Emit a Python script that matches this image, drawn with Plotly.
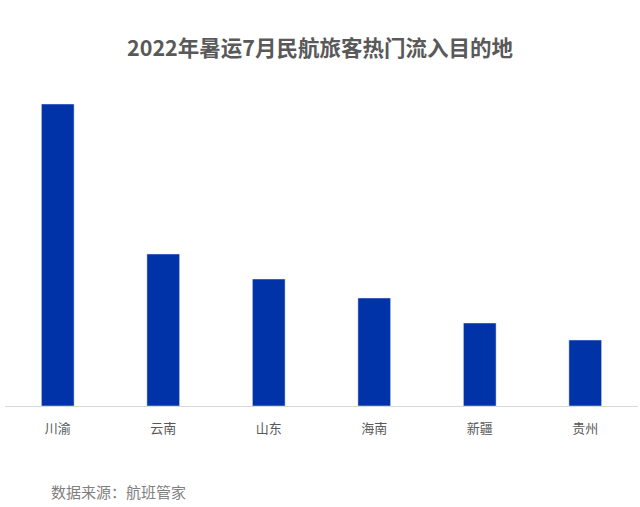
import plotly.graph_objects as go

regions = ['川渝', '云南', '山东', '海南', '新疆', '贵州']
# relative values
values = [302, 152, 127, 108, 83, 66]

TITLE = '2022年暑运7月民航旅客热门流入目的地'
SOURCE = '数据来源：航班管家'
FONT = 'Noto Sans CJK SC'

fig = go.Figure()
fig.add_trace(go.Bar(
    x=regions,
    y=values,
    marker_color='#0033A8',
    width=0.31,
    hoverinfo='x+y'
))

fig.update_layout(
    width=640,
    height=507,
    paper_bgcolor='white',
    plot_bgcolor='white',
    font=dict(family=FONT, color='#595959'),
    margin=dict(l=5, r=2, t=100, b=101),
    showlegend=False,
    title=dict(
        text='<b>' + TITLE + '</b>',
        x=0.5, xanchor='center',
        y=1 - 48 / 507, yanchor='middle',
        font=dict(size=21.5, color='#595959', family=FONT)
    ),
    xaxis=dict(
        showline=True, linecolor='#d9d9d9', linewidth=1,
        showgrid=False,
        ticks='outside', ticklen=10, tickcolor='rgba(0,0,0,0)',
        tickfont=dict(size=13, color='#595959')
    ),
    yaxis=dict(
        range=[0, 306],
        visible=False,
        showgrid=False,
        zeroline=False
    ),
    annotations=[dict(
        text=SOURCE,
        xref='paper', yref='paper',
        x=-0.005 + 47 / 633, xanchor='left',
        y=-86 / 306, yanchor='middle',
        showarrow=False,
        font=dict(size=15, color='#808080', family=FONT)
    )]
)

# drop the page's default body margin so the figure sits at the top-left corner
fig.write_html('out.html', config={'displayModeBar': False},
               post_script="document.body.style.margin='0';")
